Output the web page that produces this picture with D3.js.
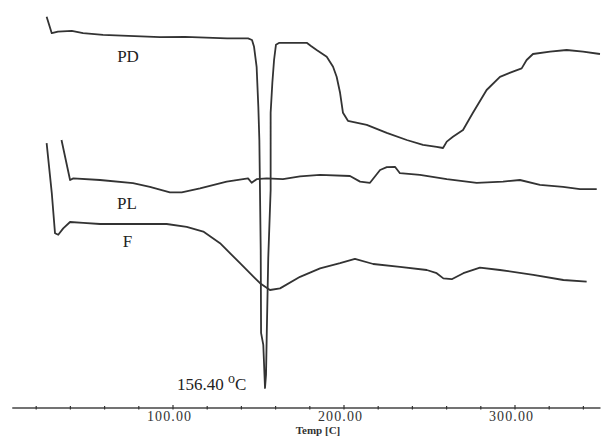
<!DOCTYPE html>
<html>
<head>
<meta charset="utf-8">
<script src="https://cdn.jsdelivr.net/npm/d3@7"></script>
<style>
  html, body { margin: 0; padding: 0; background: #fff; }
  svg { display: block; }
</style>
</head>
<body>
<svg id="chart" width="607" height="439"></svg>
<script>
// Temperature [C] vs DSC signal (arbitrary units)
const pdTemp = [26.1,29.1,32.7,40.8,47.4,59.1,92.4,107.0,131.6,143.9,146.2,147.4,148.9,149.9,150.5,151.3,151.5,152.8,153.5,153.8,154.4,154.8,155.7,157.1,157.1,158.1,159.1,160.2,162.2,178.2,180.7,184.0,189.9,193.6,195.7,197.7,199.4,202.3,213.3,225.0,236.7,246.2,254.2,257.9,260.1,263.7,269.6,275.4,283.4,291.2,298.8,303.9,306.8,310.5,320.5,330.2,339.8,349.7];
const pdSignal = [97.8,93.7,94.1,94.3,93.7,93.3,92.7,92.8,92.4,92.4,92.0,90.3,85.3,75.3,67.0,39.5,18.8,15.8,8.3,5.0,8.3,17.8,37.5,54.5,73.8,81.3,87.0,90.8,91.3,91.3,90.5,89.5,87.8,85.3,82.8,78.8,73.8,71.8,70.8,68.8,67.0,65.8,65.3,65.0,66.6,67.8,69.5,73.8,79.5,82.8,84.1,84.9,87.0,88.5,89.1,89.5,89.1,88.5];

const plTemp = [34.8,39.8,41.7,57.3,76.6,86.5,98.2,105.1,115.8,131.4,143.9,146.0,148.9,154.8,164.3,174.3,186.0,203.5,209.4,215.2,221.1,225.0,229.8,232.7,244.4,260.1,277.6,293.0,302.9,314.6,328.1,338.0,347.8];
const plSignal = [67.0,57.0,57.4,57.0,56.2,55.3,53.9,53.9,54.9,56.6,57.4,56.3,57.2,57.4,57.2,57.9,58.3,58.0,56.6,56.3,59.5,60.2,60.3,58.7,58.3,57.2,56.3,56.6,57.0,55.8,55.3,54.7,54.7];

const fTemp = [26.1,29.1,31.0,32.9,35.8,39.8,47.5,57.3,96.3,108.0,117.7,127.5,139.2,150.9,156.7,162.6,174.3,186.0,197.7,206.4,217.1,232.7,248.4,254.2,258.1,263.0,269.8,279.5,291.2,310.7,328.3,341.9];
const fSignal = [66.2,53.8,43.7,43.3,44.9,46.5,46.3,46.0,46.0,45.3,44.1,41.2,36.2,31.2,29.5,29.9,32.8,34.9,36.2,37.3,36.0,35.3,34.5,33.7,32.4,32.2,33.7,35.1,34.5,33.3,32.0,31.6];

const seriesNames = ["PD", "PL", "F"];
const labelTemp = [73.7, 73.1, 73.4];
const labelSignal = [86.6, 49.8, 40.3];

const tickValues = [20,40,60,80,100,120,140,160,180,200,220,240,260,280,300,320,340];
const majorTicks = [100, 200, 300];
const peakLabel = "156.40";
const xTitle = "Temp [C]";

const svg = d3.select("#chart");
const x = d3.scaleLinear().domain([0, 100]).range([2, 173]);
const y = d3.scaleLinear().domain([0, 100]).range([408, 8]);
const axisStart = 6, axisEnd = 350;

const line = d3.line().x(d => x(d[0])).y(d => y(d[1])).curve(d3.curveLinear);
const zip = (a, b) => a.map((v, i) => [v, b[i]]);

const stroke = "#333";
[[pdTemp, pdSignal], [plTemp, plSignal], [fTemp, fSignal]].forEach(([t, s]) => {
  svg.append("path")
    .attr("d", line(zip(t, s)))
    .attr("fill", "none")
    .attr("stroke", stroke)
    .attr("stroke-width", 1.8)
    .attr("stroke-linejoin", "round");
});

// series labels
seriesNames.forEach((n, i) => {
  svg.append("text")
    .attr("x", x(labelTemp[i]))
    .attr("y", y(labelSignal[i]))
    .attr("text-anchor", "middle")
    .attr("font-family", "Liberation Serif, serif")
    .attr("font-size", 17)
    .attr("fill", "#222")
    .text(n);
});

// peak annotation
const ann = svg.append("text")
  .attr("x", 177)
  .attr("y", 390)
  .attr("font-family", "Liberation Serif, serif")
  .attr("font-size", 17)
  .attr("fill", "#222");
ann.append("tspan").text(peakLabel + " ");
ann.append("tspan").attr("font-size", 14).attr("dy", -7).text("o");
ann.append("tspan").attr("dy", 7).text("C");

// x axis
const axisG = svg.append("g").attr("transform", "translate(0,408)");
axisG.append("line")
  .attr("x1", x(axisStart)).attr("x2", x(axisEnd))
  .attr("stroke", "#444").attr("stroke-width", 1.3);
axisG.selectAll("line.tick").data(tickValues).enter().append("line")
  .attr("class", "tick")
  .attr("x1", d => x(d)).attr("x2", d => x(d))
  .attr("y1", d => majorTicks.includes(d) ? -3 : -2)
  .attr("y2", 1.5)
  .attr("stroke", "#333").attr("stroke-width", 1.2);
axisG.selectAll("text.lbl").data(majorTicks).enter().append("text")
  .attr("class", "lbl")
  .attr("x", d => x(d) - 4)
  .attr("y", 13)
  .attr("text-anchor", "middle")
  .attr("textLength", 44)
  .attr("font-family", "Liberation Serif, serif")
  .attr("font-size", 14)
  .attr("fill", "#333")
  .text(d => d3.format(".2f")(d));
svg.append("text")
  .attr("x", 318)
  .attr("y", 434)
  .attr("text-anchor", "middle")
  .attr("font-family", "Liberation Serif, serif")
  .attr("font-size", 11)
  .attr("font-weight", "bold")
  .attr("fill", "#333")
  .text(xTitle);
</script>
</body>
</html>
